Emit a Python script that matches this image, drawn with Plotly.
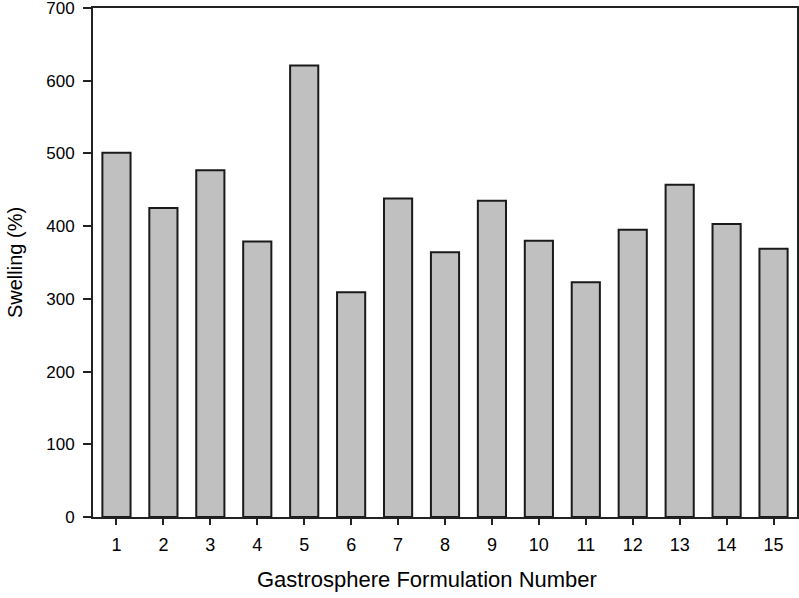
import plotly.graph_objects as go

formulations = [str(i) for i in range(1, 16)]
swelling = [501, 425, 477, 379, 621, 309, 438, 364, 435, 380, 323, 395, 457, 403, 369]
y_ticks = [0, 100, 200, 300, 400, 500, 600, 700]
x_title = "Gastrosphere Formulation Number"
y_title = "Swelling (%)"

fig = go.Figure(
    go.Bar(
        x=list(range(1, 16)),
        y=swelling,
        width=0.6,
        marker=dict(color="#c0c0c0", line=dict(color="#1a1a1a", width=2)),
    )
)

font_family = "Liberation Sans, Arial, sans-serif"

fig.update_layout(
    width=799,
    height=598,
    margin=dict(l=93, r=2, t=8, b=81),
    plot_bgcolor="white",
    paper_bgcolor="white",
    showlegend=False,
    font=dict(family=font_family, color="black"),
    xaxis=dict(
        range=[0.5, 15.5],
        tickmode="array",
        tickvals=list(range(1, 16)),
        ticktext=formulations,
        ticks="outside",
        ticklen=6,
        tickwidth=2,
        tickcolor="#222",
        showline=True,
        linecolor="#222",
        linewidth=2,
        mirror=True,
        showgrid=False,
        zeroline=False,
        automargin=False,
        ticklabeloverflow="allow",
        ticklabelstandoff=4,
        tickfont=dict(size=18),
    ),
    yaxis=dict(
        range=[0, 700],
        tickmode="array",
        tickvals=y_ticks,
        ticks="outside",
        ticklen=8,
        tickwidth=2,
        tickcolor="#222",
        showline=True,
        linecolor="#222",
        linewidth=2,
        mirror=True,
        showgrid=False,
        zeroline=False,
        automargin=False,
        ticklabeloverflow="allow",
        ticklabelstandoff=5,
        tickfont=dict(size=17),
        title=dict(text=y_title, font=dict(size=20), standoff=18),
    ),
    annotations=[
        dict(
            text=x_title,
            xref="paper",
            yref="paper",
            x=0.474,
            y=0,
            yshift=-62,
            xanchor="center",
            yanchor="middle",
            showarrow=False,
            font=dict(size=22),
        )
    ],
)

fig.write_html(
    "out.html",
    config={"displayModeBar": False},
    post_script="document.body.style.margin='0';document.body.style.overflow='hidden';",
)
